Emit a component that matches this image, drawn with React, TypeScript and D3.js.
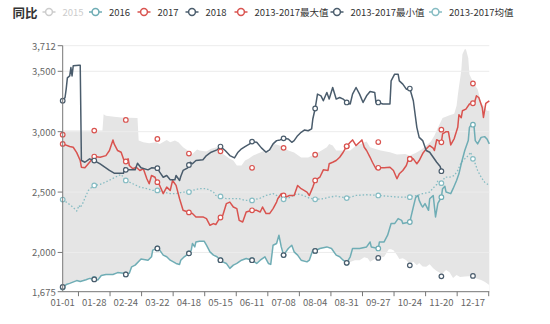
import React from 'react';
import * as d3 from 'd3';

type P = [number, number];

// categories: daily dates of a (leap) calendar year, shown as MM-DD
const categories: string[] = d3
  .timeDay.range(new Date(2016, 0, 1), new Date(2017, 0, 1))
  .map(d3.timeFormat('%m-%d'));

const xTickLabels = ['01-01', '01-28', '02-24', '03-22', '04-18', '05-15', '06-11', '07-08', '08-04', '08-31', '09-27', '10-24', '11-20', '12-17'];
const yTickValues = [1675, 2000, 2500, 3000, 3500, 3712];

// [day index, value]
const s2016: P[] = [[0,1710],[3,1734],[6,1744],[12,1767],[15,1759],[20,1774],[23,1785],[27,1780],[30,1771],[33,1809],[37,1818],[43,1818],[47,1833],[52,1827],[54,1818],[57,1827],[59,1881],[62,1895],[66,1936],[67,1945],[73,1936],[76,1964],[77,2019],[81,2033],[83,2019],[86,1978],[89,1964],[92,1936],[97,1909],[100,1901],[101,1936],[104,1964],[108,1992],[110,2019],[111,2074],[113,2046],[114,2087],[117,2093],[121,2093],[123,2060],[126,2005],[129,1978],[132,1964],[135,1936],[137,1922],[140,1909],[143,1868],[146,1895],[149,1909],[153,1936],[157,1950],[162,1936],[166,1909],[169,1936],[173,1964],[176,1909],[178,1901],[180,2060],[183,2074],[185,2143],[187,2046],[189,1978],[193,2033],[196,2060],[198,2005],[201,1978],[204,1936],[209,1922],[211,1936],[214,2019],[216,2013],[220,2033],[226,2046],[230,2033],[234,1978],[237,1964],[240,1936],[243,1914],[246,1964],[248,2033],[254,2033],[260,2046],[263,2087],[264,2046],[270,2033],[271,2087],[275,2087],[278,2143],[281,2239],[284,2239],[287,2280],[290,2266],[291,2239],[297,2252],[298,2294],[300,2376],[302,2456],[304,2472],[305,2431],[307,2390],[308,2376],[310,2404],[313,2349],[314,2445],[317,2472],[319,2294],[321,2406],[324,2458],[325,2528],[327,2547],[328,2500],[332,2487],[334,2528],[337,2596],[339,2651],[341,2734],[344,2844],[347,2926],[348,3036],[350,3064],[351,3058],[352,3036],[353,2926],[355,2899],[358,2953],[361,2959],[363,2940],[365,2899]];

const s2017: P[] = [[0,2899],[6,2877],[9,2871],[12,2827],[15,2761],[16,2706],[19,2701],[23,2747],[27,2794],[32,2788],[37,2802],[40,2844],[43,2932],[44,2899],[47,2844],[50,2830],[53,2747],[54,2753],[56,2775],[57,2720],[60,2693],[63,2706],[66,2679],[69,2693],[72,2610],[74,2569],[76,2637],[79,2623],[80,2596],[83,2555],[86,2487],[89,2541],[92,2514],[94,2596],[97,2555],[100,2445],[103,2349],[107,2335],[111,2322],[114,2294],[120,2294],[123,2280],[126,2225],[129,2239],[131,2231],[134,2280],[137,2308],[140,2404],[143,2417],[146,2376],[149,2363],[151,2266],[154,2252],[157,2335],[162,2349],[166,2349],[169,2335],[171,2376],[174,2322],[177,2322],[180,2363],[183,2417],[184,2445],[187,2487],[191,2458],[194,2472],[198,2472],[201,2555],[204,2528],[209,2500],[211,2472],[214,2541],[216,2596],[220,2623],[223,2684],[227,2679],[228,2734],[231,2747],[234,2761],[237,2788],[240,2830],[243,2879],[246,2912],[248,2932],[251,2885],[254,2912],[256,2932],[258,2871],[260,2844],[263,2788],[265,2747],[268,2693],[270,2701],[275,2701],[280,2706],[283,2679],[286,2610],[288,2651],[291,2679],[294,2720],[296,2775],[300,2775],[303,2734],[305,2761],[308,2819],[311,2858],[314,2885],[317,2864],[318,2844],[320,2934],[324,2912],[325,2981],[328,3000],[330,3000],[332,2890],[335,2943],[338,3036],[339,3140],[341,3116],[342,3173],[345,3187],[348,3229],[350,3242],[352,3229],[354,3297],[356,3283],[359,3198],[360,3118],[362,3235],[365,3256]];

const s2018: P[] = [[0,3256],[2,3283],[3,3355],[4,3446],[6,3462],[7,3531],[8,3462],[9,3545],[14,3550],[15,3550],[16,2761],[19,2747],[23,2775],[27,2761],[32,2734],[40,2679],[44,2656],[52,2656],[53,2701],[54,2684],[62,2684],[64,2739],[67,2701],[73,2684],[76,2701],[81,2698],[83,2665],[86,2623],[89,2637],[92,2602],[96,2602],[97,2637],[100,2596],[101,2629],[103,2679],[107,2701],[109,2747],[111,2734],[114,2761],[120,2767],[123,2802],[127,2830],[132,2849],[135,2877],[139,2844],[143,2802],[147,2783],[150,2830],[153,2858],[156,2877],[160,2899],[162,2918],[166,2912],[170,2866],[174,2830],[177,2849],[180,2899],[183,2926],[186,2932],[189,2945],[193,2940],[196,2912],[198,2926],[201,2967],[204,2995],[207,3014],[210,3008],[213,3023],[214,3105],[216,3192],[218,3311],[221,3297],[223,3256],[226,3324],[228,3270],[231,3366],[234,3270],[237,3283],[240,3270],[243,3242],[246,3229],[248,3311],[251,3366],[254,3311],[257,3242],[260,3297],[263,3333],[267,3324],[268,3242],[270,3242],[274,3229],[280,3229],[281,3421],[284,3476],[287,3476],[288,3421],[291,3394],[294,3352],[297,3357],[300,3256],[303,3036],[305,2953],[308,2926],[311,2844],[314,2830],[317,2788],[320,2747],[323,2712],[324,2673]];

const sMean: P[] = [[0,2438],[3,2417],[7,2390],[10,2363],[12,2343],[14,2390],[15,2371],[17,2404],[20,2472],[22,2514],[25,2541],[27,2555],[32,2563],[37,2584],[43,2613],[47,2633],[50,2646],[54,2596],[60,2569],[66,2541],[72,2528],[77,2514],[81,2514],[86,2500],[92,2487],[97,2487],[103,2500],[108,2500],[111,2514],[117,2528],[123,2528],[129,2500],[131,2472],[135,2464],[140,2445],[151,2445],[156,2431],[162,2431],[169,2450],[174,2472],[180,2487],[183,2472],[189,2440],[195,2458],[200,2487],[206,2472],[211,2450],[216,2440],[223,2445],[228,2458],[234,2467],[243,2450],[251,2472],[260,2478],[270,2472],[280,2464],[288,2458],[297,2458],[303,2472],[308,2487],[314,2500],[317,2534],[320,2563],[321,2596],[324,2574],[327,2623],[331,2623],[335,2637],[338,2679],[341,2747],[344,2775],[347,2802],[349,2830],[351,2775],[353,2734],[355,2679],[358,2623],[361,2582],[365,2555]];

// 2013-2017 range band (upper edge = max, lower edge = min)
const bandMax: P[] = [[0,3009],[34,3009],[35,3145],[37,3132],[44,3124],[50,3118],[57,3116],[64,3113],[65,2926],[69,2912],[74,2904],[80,2912],[83,2899],[89,2932],[92,2912],[96,2926],[99,2912],[103,2871],[107,2844],[111,2816],[115,2852],[117,2844],[123,2835],[127,2858],[132,2871],[135,2830],[139,2802],[143,2775],[146,2761],[149,2720],[153,2720],[156,2761],[159,2775],[163,2802],[166,2816],[169,2827],[173,2844],[177,2830],[180,2899],[183,2893],[188,2877],[193,2844],[198,2827],[204,2786],[210,2786],[216,2815],[220,2835],[226,2871],[228,2899],[231,2885],[234,2844],[240,2844],[246,2844],[251,2885],[255,2899],[260,2918],[263,2871],[267,2858],[272,2844],[280,2830],[286,2811],[293,2816],[297,2802],[302,2823],[307,2852],[311,2885],[315,2918],[318,2967],[321,3033],[325,3113],[331,3136],[335,3149],[337,3215],[338,3297],[339,3371],[341,3503],[342,3641],[344,3682],[345,3682],[347,3611],[348,3476],[350,3435],[352,3394],[355,3352],[358,3242],[361,3201],[363,3174],[365,3174]];

const bandMinTail: P[] = [[246,1920],[250,1936],[254,1936],[258,1961],[261,1953],[263,1922],[267,1945],[270,1955],[273,1961],[275,1964],[279,2027],[281,2027],[283,2019],[286,1978],[288,1945],[291,1953],[294,1936],[297,1903],[300,1922],[303,1895],[305,1912],[308,1883],[311,1881],[314,1903],[317,1870],[320,1846],[323,1829],[324,1804],[326,1837],[328,1854],[331,1837],[334,1788],[337,1813],[340,1796],[344,1800],[351,1804],[354,1785],[358,1771],[361,1757],[365,1730]];
// before day 243 the 2013-2017 minimum is the 2016 series itself
const bandMin: P[] = [...s2016.filter((d) => d[0] <= 243), ...bandMinTail];

const maxMarkers = [2975, 3009, 3097, 2940, 2819, 2837, 2701, 2866, 2809, 2879, 2914, 2774, 3017, 3399];
const minMarkers = [1714, 1777, 1818, 2033, 1992, 1936, 1936, 1978, 2013, 1914, 1955, 1893, 1802, 1806];

const C16 = '#6fadb5';
const C17 = '#d9534f';
const C18 = '#4a5c6c';
const CMEAN = '#86bcc3';

const legendItems = [
  { name: '2015', color: '#cccccc', text: '#cccccc', cx: 49 },
  { name: '2016', color: C16, text: '#333', cx: 95.5 },
  { name: '2017', color: C17, text: '#333', cx: 144 },
  { name: '2018', color: C18, text: '#333', cx: 192 },
  { name: '2013-2017最大值', color: C17, text: '#333', cx: 241 },
  { name: '2013-2017最小值', color: C18, text: '#333', cx: 337 },
  { name: '2013-2017均值', color: CMEAN, text: '#333', cx: 435.5 },
];

const FONT = "'Noto Sans CJK SC', 'Noto Sans', sans-serif";

function valueAt(s: P[], day: number): number | null {
  if (day < s[0][0] || day > s[s.length - 1][0]) return null;
  const i = d3.bisector((d: P) => d[0]).left(s, day);
  if (s[i][0] === day) return s[i][1];
  const a = s[i - 1], b = s[i];
  const t = (day - a[0]) / (b[0] - a[0]);
  return a[1] + t * (b[1] - a[1]);
}

export default function App() {
  const left = 62.7, right = 489.3, top = 45.7, bottom = 291.7;
  const x = d3.scaleLinear().domain([0, categories.length - 1]).range([left, right]);
  const y = d3.scaleLinear().domain([1675, 3712]).range([bottom, top]);
  const line = d3.line<P>().x((d) => x(d[0])).y((d) => y(d[1]));
  const area = d3.area<P>().x((d) => x(d[0])).y0(bottom).y1((d) => y(d[1]));

  const markerDays = xTickLabels.map((l) => categories.indexOf(l));
  const tickDays = [...markerDays.slice(0, -1).map((d, i) => (d + markerDays[i + 1]) / 2), (markerDays[13] + markerDays[13] + 27) / 2];

  const seriesMarkers = (s: P[], color: string, key: string) =>
    markerDays.map((d, i) => {
      const v = valueAt(s, d);
      if (v == null) return null;
      return <circle key={key + i} cx={x(d)} cy={y(v)} r={2.3} fill="#fff" stroke={color} strokeWidth={1.2} />;
    });

  return (
    <svg width={550} height={324} style={{ position: 'absolute', left: 0, top: 0, display: 'block' }} fontFamily={FONT}>
      <rect width={550} height={324} fill="#fff" />
      <defs>
        <clipPath id="plot">
          <rect x={left} y={top - 2} width={right - left + 1} height={bottom - top + 2} />
        </clipPath>
      </defs>
      <text x={12.5} y={17.5} fontSize={12.5} fontWeight="bold" fill="#333">同比</text>
      {legendItems.map((it) => (
        <g key={it.name}>
          <line x1={it.cx - 6.5} x2={it.cx + 6.5} y1={12} y2={12} stroke={it.color} strokeWidth={1.5} />
          <circle cx={it.cx} cy={12} r={3.4} fill="#fff" stroke={it.color} strokeWidth={1.5} />
          <text x={it.cx + 13.5} y={12} dominantBaseline="central" fontSize={9.5} fill={it.text}>{it.name}</text>
        </g>
      ))}
      <g clipPath="url(#plot)">
        <path d={area(bandMax) || ''} fill="#e5e5e5" />
        <path d={area(bandMin) || ''} fill="#ffffff" />
      </g>
      {yTickValues.slice(1).map((v) => (
        <line key={v} x1={left} x2={right} y1={y(v)} y2={y(v)} stroke="#ececec" strokeWidth={1} />
      ))}
      <g clipPath="url(#plot)" fill="none" strokeLinejoin="round">
        <path d={line(sMean) || ''} stroke={CMEAN} strokeWidth={1.3} strokeDasharray="1.5 2" />
        <path d={line(s2016) || ''} stroke={C16} strokeWidth={1.5} />
        <path d={line(s2017) || ''} stroke={C17} strokeWidth={1.5} />
        <path d={line(s2018) || ''} stroke={C18} strokeWidth={1.5} />
      </g>
      <g>
        {seriesMarkers(s2016, C16, 'a')}
        {seriesMarkers(s2017, C17, 'b')}
        {seriesMarkers(s2018, C18, 'c')}
        {markerDays.map((d, i) => (
          <circle key={'mx' + i} cx={x(d)} cy={y(maxMarkers[i])} r={2.3} fill="#fff" stroke={C17} strokeWidth={1.2} />
        ))}
        {markerDays.map((d, i) => (
          <circle key={'mn' + i} cx={x(d)} cy={y(minMarkers[i])} r={2.3} fill="#fff" stroke={C18} strokeWidth={1.2} />
        ))}
        {seriesMarkers(sMean, CMEAN, 'm')}
      </g>
      {/* y axis */}
      <line x1={left} x2={left} y1={top} y2={bottom} stroke="#777" strokeWidth={1} />
      {yTickValues.map((v) => (
        <g key={v}>
          <line x1={left - 5} x2={left} y1={y(v)} y2={y(v)} stroke="#777" />
          <text x={left - 7} y={y(v)} textAnchor="end" dominantBaseline="central" fontSize={9.5} fill="#666">
            {d3.format(',')(v)}
          </text>
        </g>
      ))}
      {/* x axis */}
      <line x1={left} x2={right} y1={bottom} y2={bottom} stroke="#777" strokeWidth={1} />
      {tickDays.map((d, i) => (
        <line key={i} x1={x(d)} x2={x(d)} y1={bottom} y2={bottom + 4.5} stroke="#777" />
      ))}
      {markerDays.map((d, i) => (
        <text key={i} x={x(d)} y={bottom + 10.5} textAnchor="middle" dominantBaseline="central" fontSize={9.5} fill="#666">
          {xTickLabels[i]}
        </text>
      ))}
    </svg>
  );
}
